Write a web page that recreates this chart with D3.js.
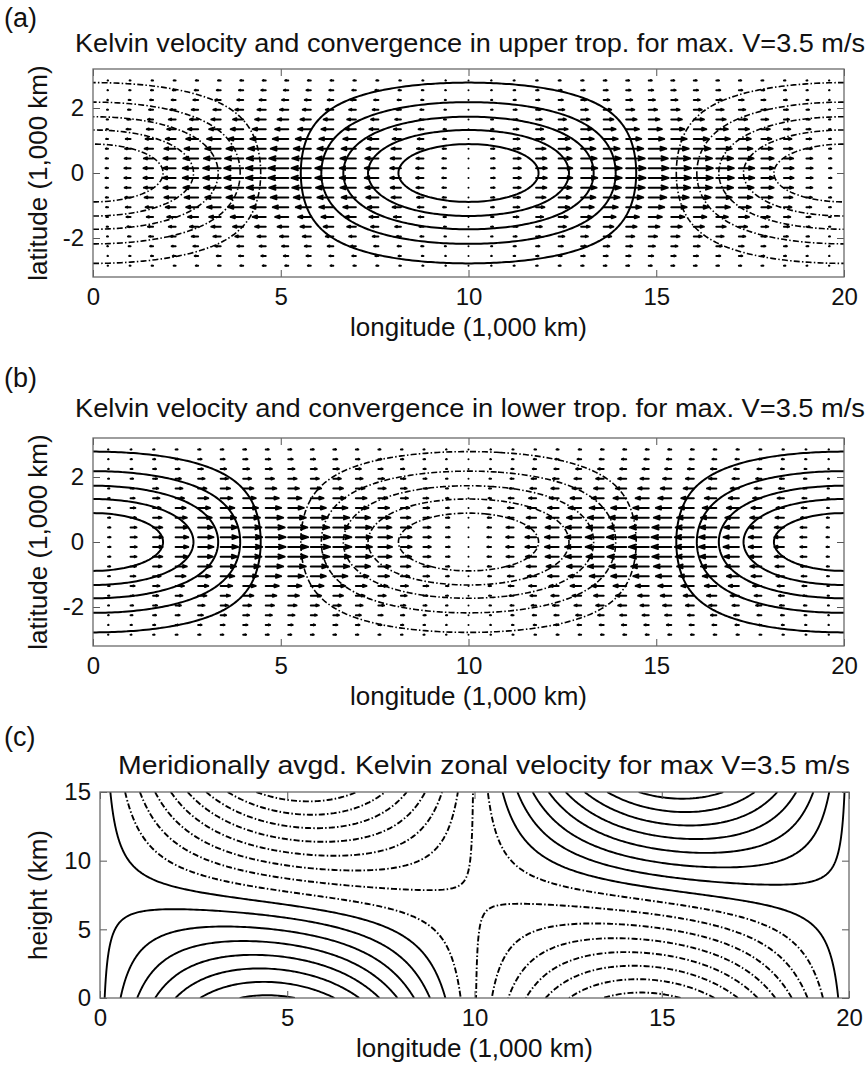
<!DOCTYPE html>
<html>
<head>
<meta charset="utf-8">
<script src="https://d3js.org/d3.v7.min.js"></script>
<style>
  body { margin: 0; background: #fff; }
  text { font-family: "Liberation Sans", Arial, sans-serif; fill: #111; }
</style>
</head>
<body></body>
<script>
var W = 866, H = 1068;

// ---- data ----
var lonTicks = [0, 5, 10, 15, 20];
var latTicks = [-2, 0, 2];
var hgtTicks = [0, 5, 10, 15];
var lonRange = [0, 20];
var latRange = [-3.2, 3.2];
var hgtRange = [0, 15];

var letters = ["(a)", "(b)", "(c)"];
var titles = [
  "Kelvin velocity and convergence in upper trop. for max. V=3.5 m/s",
  "Kelvin velocity and convergence in lower trop. for max. V=3.5 m/s",
  "Meridionally avgd. Kelvin zonal velocity for max V=3.5 m/s"
];
var xLabel = "longitude (1,000 km)";
var yLabels = ["latitude (1,000 km)", "latitude (1,000 km)", "height (km)"];

// convergence contours (fraction of the maximum)
var convLevels = [-0.833, -0.667, -0.5, -0.333, -0.167, 0.167, 0.333, 0.5, 0.667, 0.833];
var layerSign = [1, -1];      // upper, lower troposphere
var waveLen = 20;             // 1,000 km
var latWidth = 1.47;          // meridional e-folding (1,000 km)

// quiver sample points
var quivLon = d3.range(0.4, 19.7, 0.6);
var quivLat = d3.range(-2.85, 2.9, 0.3);

// zonal velocity section u = P(z) sin kx + Q cos kx + R, P linear in height
var profP = [0.77, -0.80];    // at z = 0 and z = 15 km
var profQ = 0.13;
var profR = -0.06;
var uLevels = [-0.8, -0.7, -0.6, -0.5, -0.4, -0.3, -0.2, -0.1, 0, 0.1, 0.2, 0.3, 0.4, 0.5, 0.6, 0.7];

// ---- layout ----
var boxes = [
  {x0: 93, y0: 69, x1: 844, y1: 277, titleY: 52, letterY: 27, titleX: 470, titleW: 790},
  {x0: 93, y0: 438, x1: 844, y1: 646, titleY: 417, letterY: 387, titleX: 470, titleW: 790},
  {x0: 100, y0: 792, x1: 849, y1: 998, titleY: 774, letterY: 746, titleX: 484, titleW: 732}
];

var svg = d3.select("body").append("svg")
    .attr("width", W).attr("height", H)
    .style("display", "block");
svg.append("rect").attr("width", W).attr("height", H).attr("fill", "#fff");

var k = 2 * Math.PI / waveLen;
var gauss = function(y) { return Math.exp(-y * y / (2 * latWidth * latWidth)); };

// contour lines from d3.contours, with the outer frame pieces removed
function contourLines(fn, xr, yr, nx, ny, levels) {
  var vals = new Array(nx * ny);
  for (var j = 0; j < ny; j++)
    for (var i = 0; i < nx; i++)
      vals[j * nx + i] = fn(xr[0] + (xr[1] - xr[0]) * i / (nx - 1),
                            yr[0] + (yr[1] - yr[0]) * j / (ny - 1));
  var onB = function(p) { return p[0] <= 0 || p[0] >= nx || p[1] <= 0 || p[1] >= ny; };
  var toData = function(p) {
    return [xr[0] + (p[0] - 0.5) * (xr[1] - xr[0]) / (nx - 1),
            yr[0] + (p[1] - 0.5) * (yr[1] - yr[0]) / (ny - 1)];
  };
  var out = [];
  d3.contours().size([nx, ny]).thresholds(levels)(vals).forEach(function(mp) {
    var lines = [];
    mp.coordinates.forEach(function(poly) {
      poly.forEach(function(ring) {
        var n = ring.length - 1, pts = ring.slice(0, n), start = -1;
        for (var i = 0; i < n; i++) if (onB(pts[i])) { start = i; break; }
        if (start < 0) { lines.push(ring.map(toData)); return; }
        var cur = [];
        for (var s = 1; s <= n; s++) {
          var p = pts[(start + s) % n];
          if (onB(p)) { if (cur.length > 1) lines.push(cur.map(toData)); cur = []; }
          else cur.push(p);
        }
        if (cur.length > 1) lines.push(cur.map(toData));
      });
    });
    out.push({value: mp.value, lines: lines});
  });
  return out;
}

function drawFrame(g, b, sx, sy, yTicks) {
  var w = b.x1 - b.x0, h = b.y1 - b.y0;
  var fmt = function(d) { return String(d); };
  var bottom = g.append("g").attr("transform", "translate(0," + h + ")")
      .call(d3.axisBottom(sx).tickValues(lonTicks).tickSizeInner(-7).tickSizeOuter(0)
        .tickPadding(11).tickFormat(fmt));
  var top = g.append("g")
      .call(d3.axisTop(sx).tickValues(lonTicks).tickSizeInner(-7).tickSizeOuter(0).tickFormat(""));
  var left = g.append("g")
      .call(d3.axisLeft(sy).tickValues(yTicks).tickSizeInner(-7).tickSizeOuter(0)
        .tickPadding(9).tickFormat(fmt));
  var right = g.append("g").attr("transform", "translate(" + w + ",0)")
      .call(d3.axisRight(sy).tickValues(yTicks).tickSizeInner(-7).tickSizeOuter(0).tickFormat(""));
  [bottom, top, left, right].forEach(function(a) {
    a.select(".domain").remove();
    a.selectAll(".tick line").attr("stroke", "#555").attr("stroke-width", 1);
    a.selectAll(".tick text").style("font-size", "24px")
      .style("font-family", '"Liberation Sans", Arial, sans-serif').attr("fill", "#111");
  });
  g.append("rect").attr("width", w).attr("height", h)
    .attr("fill", "none").attr("stroke", "#6a6a6a").attr("stroke-width", 1.3);
}

function drawContours(g, sets, sx, sy, solidW, dashW) {
  var line = d3.line().x(function(p) { return sx(p[0]); }).y(function(p) { return sy(p[1]); });
  sets.forEach(function(s) {
    var neg = s.value < 0;
    s.lines.forEach(function(l) {
      g.append("path").attr("d", line(l))
        .attr("fill", "none").attr("stroke", "#000")
        .attr("stroke-width", neg ? dashW : solidW)
        .attr("stroke-dasharray", neg ? "6,2.2,1.5,2.2" : null)
        .attr("stroke-linejoin", "round");
    });
  });
}

boxes.forEach(function(b, pi) {
  var w = b.x1 - b.x0, h = b.y1 - b.y0;
  var g = svg.append("g").attr("transform", "translate(" + b.x0 + "," + b.y0 + ")");
  var sx = d3.scaleLinear().domain(lonRange).range([0, w]);
  var yr = pi < 2 ? latRange : hgtRange;
  var sy = d3.scaleLinear().domain(yr).range([h, 0]);

  svg.append("clipPath").attr("id", "clip" + pi)
    .append("rect").attr("x", 0).attr("y", 0).attr("width", w).attr("height", h);
  var plot = g.append("g").attr("clip-path", "url(#clip" + pi + ")");

  if (pi < 2) {
    var sign = layerSign[pi];
    var conv = function(x, y) { return sign * Math.cos(k * (x - 10)) * gauss(y); };
    drawContours(plot, contourLines(conv, lonRange, latRange, 241, 129, convLevels), sx, sy, 2, 1.6);

    // quiver of zonal velocity (MATLAB-style arrowheads)
    var arrowLen = 20;
    var pts = [];
    quivLat.forEach(function(y) {
      quivLon.forEach(function(x) { pts.push({x: x, y: y, u: -sign * Math.sin(k * x) * gauss(y)}); });
    });
    plot.selectAll("path.arrow").data(pts).enter().append("path")
      .attr("class", "arrow")
      .attr("d", function(d) {
        var x0 = sx(d.x), y0 = sy(d.y), du = d.u * arrowLen, x1 = x0 + du;
        var hb = 0.33 * du, hw = 0.11 * Math.abs(du);
        return "M" + x0 + "," + y0 + "L" + x1 + "," + y0 +
               "M" + (x1 - hb) + "," + (y0 - hw) + "L" + x1 + "," + y0 + "L" + (x1 - hb) + "," + (y0 + hw);
      })
      .attr("fill", "none").attr("stroke", "#000").attr("stroke-width", 2)
      .attr("stroke-linecap", "round").attr("stroke-linejoin", "round");
  } else {
    var uField = function(x, z) {
      var P = profP[0] + (profP[1] - profP[0]) * z / hgtRange[1];
      return P * Math.sin(k * x) + profQ * Math.cos(k * x) + profR;
    };
    drawContours(plot, contourLines(uField, lonRange, hgtRange, 241, 181, uLevels), sx, sy, 1.9, 1.9);
  }

  drawFrame(g, b, sx, sy, pi < 2 ? latTicks : hgtTicks);

  // texts
  svg.append("text").attr("x", 4).attr("y", b.letterY).style("font-size", "27px").text(letters[pi]);
  svg.append("text").attr("x", b.titleX).attr("y", b.titleY).attr("text-anchor", "middle")
    .style("font-size", "26px").attr("textLength", b.titleW).attr("lengthAdjust", "spacingAndGlyphs")
    .text(titles[pi]);
  svg.append("text").attr("x", (b.x0 + b.x1) / 2).attr("y", b.y1 + 59).attr("text-anchor", "middle")
    .style("font-size", "26px").text(xLabel);
  svg.append("text").attr("transform", "translate(" + 47 + "," + ((b.y0 + b.y1) / 2) + ") rotate(-90)")
    .attr("text-anchor", "middle").style("font-size", "26px").text(yLabels[pi]);
});
</script>
</html>
